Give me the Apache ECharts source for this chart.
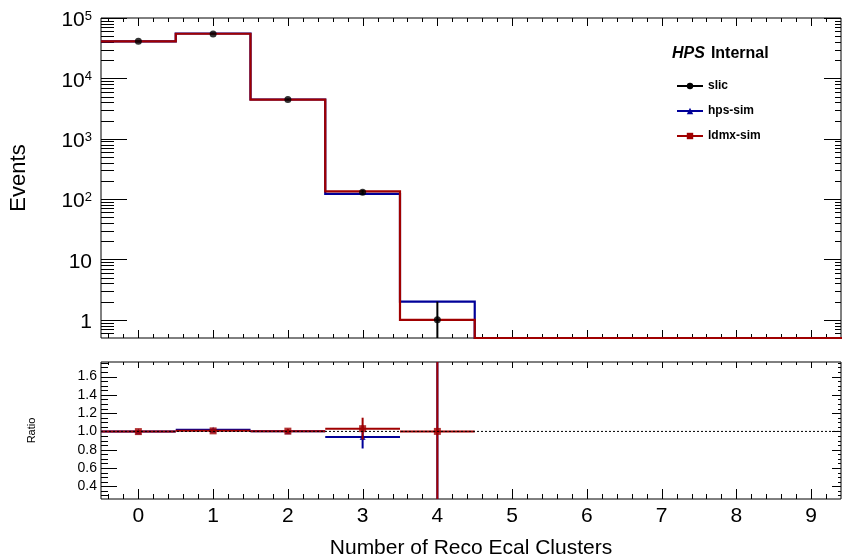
<!DOCTYPE html>
<html><head><meta charset="utf-8">
<script src="https://cdn.jsdelivr.net/npm/echarts@6/dist/echarts.min.js"></script>
<style>html,body{margin:0;padding:0;background:#fff}#c{width:842px;height:560px}</style>
</head><body><div id="c"></div>
<script>
// ---------- data ----------
const categories = [0, 1, 2, 3, 4, 5, 6, 7, 8, 9];
const slic     = [41000, 54500, 4450, 130, 1, 0, 0, 0, 0, 0];
const slicErr  = [203, 233, 67, 11.4, 1, 0, 0, 0, 0, 0];
const hpsSim   = [41000, 55400, 4465, 122, 2, 0, 0, 0, 0, 0];
const ldmxSim  = [40900, 54800, 4460, 134, 1, 0, 0, 0, 0, 0];

const ratioBins    = [0, 1, 2, 3, 4];
const ratioHps     = [1.0, 1.018, 1.003, 0.940, 2.0];
const ratioHpsErr  = [0.007, 0.006, 0.021, 0.127, 2.45];
const ratioLdmx    = [0.998, 1.006, 1.003, 1.030, 1.0];
const ratioLdmxErr = [0.007, 0.006, 0.021, 0.120, 1.41];

const xTickLabels     = ['0', '1', '2', '3', '4', '5', '6', '7', '8', '9'];
const xMajorTicks     = [0, 1, 2, 3, 4, 5, 6, 7, 8, 9];
const logMajorTicks   = [1, 10, 100, 1000, 10000, 100000];
const ratioMajorTicks = [0.4, 0.6, 0.8, 1.0, 1.2, 1.4, 1.6];
const ratioTickLabels = ['0.4', '0.6', '0.8', '1.0', '1.2', '1.4', '1.6'];

const seriesNames = ['slic', 'hps-sim', 'ldmx-sim'];
const xAxisTitle = 'Number of Reco Ecal Clusters';
const yAxisTitle = 'Events';
const ratioTitle = 'Ratio';

// ---------- axis ranges & styles ----------
const X_MIN = -0.5, X_MAX = 9.4;
const Y_MIN = 0.5, Y_MAX = 100000;
const R_MIN = 0.26, R_MAX = 1.76;
const RED = '#a00000', BLUE = '#000099', BLACK = '#000000';
const FONT = '"Liberation Sans", Arial, Helvetica, sans-serif';

// minor tick positions (axis decoration)
const xMinorTicks = [];
for (let k = -2; k <= 46; k++) if (k % 5 !== 0) xMinorTicks.push(Math.round(k * 2) / 10);
const logMinorTicks = [];
for (let n = -1; n <= 4; n++) for (let m = 2; m <= 9; m++) {
  const v = m * Math.pow(10, n);
  if (v > Y_MIN && v < Y_MAX) logMinorTicks.push(v);
}
const ratioMinorTicks = [];
for (let k = 6; k <= 35; k++) if (k % 4 !== 0) ratioMinorTicks.push(Math.round(k * 5) / 100);

function tickData(xMaj, xMin, yMaj, yMin, yRef) {
  const d = [];
  xMaj.forEach(v => d.push([v, yRef, 0]));
  xMin.forEach(v => d.push([v, yRef, 1]));
  yMaj.forEach(v => d.push([0, v, 2]));
  yMin.forEach(v => d.push([0, v, 3]));
  return d;
}
function tickSeries(gi, data, L) {
  return {
    type: 'custom', xAxisIndex: gi, yAxisIndex: gi, silent: true, z: 5,
    data: data,
    renderItem: function (params, api) {
      const cs = params.coordSys;
      const kind = api.value(2);
      const st = { stroke: BLACK, lineWidth: 1 };
      const kids = [];
      if (kind < 2) {
        const px = Math.round(api.coord([api.value(0), api.value(1)])[0]) + 0.5;
        const lb = kind === 0 ? L.xb[0] : L.xb[1];
        const lt = kind === 0 ? L.xt[0] : L.xt[1];
        const b = cs.y + cs.height, t = cs.y;
        kids.push({ type: 'line', shape: { x1: px, y1: b, x2: px, y2: b - lb }, style: st });
        kids.push({ type: 'line', shape: { x1: px, y1: t, x2: px, y2: t + lt }, style: st });
      } else {
        const py = Math.round(api.coord([api.value(0), api.value(1)])[1]) + 0.5;
        const ll = kind === 2 ? L.yl[0] : L.yl[1];
        const lr = kind === 2 ? L.yr[0] : L.yr[1];
        const l = cs.x, r = cs.x + cs.width;
        kids.push({ type: 'line', shape: { x1: l, y1: py, x2: l + ll, y2: py }, style: st });
        kids.push({ type: 'line', shape: { x1: r, y1: py, x2: r - lr, y2: py }, style: st });
      }
      return { type: 'group', children: kids };
    }
  };
}

function stepSeries(vals, color, z) {
  return {
    type: 'custom', xAxisIndex: 0, yAxisIndex: 0, silent: true, z: z,
    data: categories.map((c, i) => [c, vals[i] > 0 ? vals[i] : Y_MIN]),
    renderItem: function (params, api) {
      if (params.dataIndex !== 0) return null;
      const cs = params.coordSys;
      const bottom = cs.y + cs.height;
      const pts = [];
      for (let i = 0; i < categories.length; i++) {
        const y = vals[i] > 0 ? api.coord([categories[i], vals[i]])[1] : bottom;
        pts.push([api.coord([categories[i] - 0.5, 1])[0], y]);
        pts.push([api.coord([categories[i] + 0.5, 1])[0], y]);
      }
      return { type: 'polyline', shape: { points: pts }, style: { stroke: color, lineWidth: 2.2, fill: null } };
    }
  };
}

function errorSeries(gi, xs, vals, errs, color, halfWidth, clip, z) {
  return {
    type: 'custom', xAxisIndex: gi, yAxisIndex: gi, silent: true, clip: clip, z: z,
    data: xs.map((c, i) => [c, vals[i], errs[i]]).filter(d => d[1] > 0),
    renderItem: function (params, api) {
      const cs = params.coordSys;
      const x = api.value(0), v = api.value(1), e = api.value(2);
      const bottom = cs.y + cs.height;
      const c = api.coord([x, v]);
      const lo = v - e > 0 ? api.coord([x, v - e])[1] : bottom;
      const hi = api.coord([x, v + e])[1];
      const kids = [{ type: 'line', shape: { x1: c[0], y1: lo, x2: c[0], y2: hi }, style: { stroke: color, lineWidth: 2 } }];
      if (halfWidth > 0) {
        const xl = api.coord([x - halfWidth, v])[0], xr = api.coord([x + halfWidth, v])[0];
        kids.push({ type: 'line', shape: { x1: xl, y1: c[1], x2: xr, y2: c[1] }, style: { stroke: color, lineWidth: 2 } });
      }
      return { type: 'group', children: kids };
    }
  };
}

const chart = echarts.init(document.getElementById('c'), null, { renderer: 'canvas' });
const option = {
  animation: false,
  backgroundColor: '#ffffff',
  textStyle: { fontFamily: FONT, color: BLACK },
  title: {
    text: '{i|HPS}{b|Internal}',
    left: 672, top: 46, padding: 0,
    textStyle: {
      rich: {
        i: { fontFamily: FONT, fontStyle: 'italic', fontWeight: 'bold', fontSize: 16, color: BLACK, padding: [0, 6, 0, 0] },
        b: { fontFamily: FONT, fontWeight: 'bold', fontSize: 16, color: BLACK }
      }
    }
  },
  legend: {
    orient: 'vertical', left: 676, top: 80, padding: 0,
    itemWidth: 26, itemHeight: 8, itemGap: 13,
    selectedMode: false,
    data: seriesNames,
    textStyle: { fontFamily: FONT, fontWeight: 'bold', fontSize: 12, color: BLACK }
  },
  grid: [
    { left: 101, right: 1, top: 18, height: 320, show: true, borderColor: BLACK, borderWidth: 1, backgroundColor: 'transparent' },
    { left: 101, right: 1, top: 362, height: 139, show: true, borderColor: BLACK, borderWidth: 1, backgroundColor: 'transparent' }
  ],
  xAxis: [
    { gridIndex: 0, type: 'value', min: X_MIN, max: X_MAX,
      axisLine: { show: false }, axisTick: { show: false }, axisLabel: { show: false }, splitLine: { show: false } },
    { gridIndex: 1, type: 'value', min: X_MIN, max: X_MAX, splitNumber: 10,
      axisLine: { show: false }, axisTick: { show: false }, splitLine: { show: false },
      axisLabel: {
        customValues: xMajorTicks, margin: 7, fontSize: 21, color: BLACK, fontFamily: FONT,
        showMinLabel: true, showMaxLabel: true,
        formatter: function (v) {
          const i = xMajorTicks.findIndex(t => Math.abs(t - v) < 1e-6);
          return i >= 0 ? xTickLabels[i] : '';
        }
      },
      name: xAxisTitle, nameLocation: 'middle', nameGap: 39,
      nameTextStyle: { fontSize: 21, color: BLACK, fontFamily: FONT }
    }
  ],
  yAxis: [
    { gridIndex: 0, type: 'log', logBase: 10, min: Y_MIN, max: Y_MAX,
      axisLine: { show: false }, axisTick: { show: false }, splitLine: { show: false },
      axisLabel: {
        margin: 9, color: BLACK, fontFamily: FONT, padding: [5, 0, 0, 0],
        formatter: function (v) {
          const n = Math.round(Math.log10(v));
          const i = logMajorTicks.findIndex(t => Math.abs(t - v) / t < 1e-6);
          if (i < 0) return '';
          if (n === 0) return '{b|1}';
          if (n === 1) return '{b|10}';
          return '{b|10}{s|' + n + '}';
        },
        rich: {
          b: { fontSize: 21, lineHeight: 21, fontFamily: FONT, color: BLACK },
          s: { fontSize: 13, lineHeight: 13, verticalAlign: 'top', fontFamily: FONT, color: BLACK }
        }
      },
      name: yAxisTitle, nameLocation: 'middle', nameGap: 71,
      nameTextStyle: { fontSize: 22, color: BLACK, fontFamily: FONT }
    },
    { gridIndex: 1, type: 'value', min: R_MIN, max: R_MAX, splitNumber: 7,
      axisLine: { show: false }, axisTick: { show: false }, splitLine: { show: false },
      axisLabel: {
        customValues: ratioMajorTicks, margin: 4, fontSize: 14, color: BLACK, fontFamily: FONT,
        formatter: function (v) {
          const i = ratioMajorTicks.findIndex(t => Math.abs(t - v) < 1e-6);
          return i >= 0 ? ratioTickLabels[i] : '';
        }
      },
      name: ratioTitle, nameLocation: 'middle', nameGap: 64,
      nameTextStyle: { fontSize: 11, color: BLACK, fontFamily: FONT }
    }
  ],
  series: [
    tickSeries(0, tickData(xMajorTicks, xMinorTicks, logMajorTicks, logMinorTicks, 1),
      { xb: [8, 4], xt: [8, 4], yl: [26, 13], yr: [17, 6] }),
    tickSeries(1, tickData(xMajorTicks, xMinorTicks, ratioMajorTicks, ratioMinorTicks, 1),
      { xb: [10, 5], xt: [6, 3], yl: [16, 7], yr: [9, 3] }),
    stepSeries(hpsSim, BLUE, 10),
    stepSeries(ldmxSim, RED, 11),
    errorSeries(0, categories, slic, slicErr, BLACK, 0, false, 12),
    { type: 'scatter', xAxisIndex: 0, yAxisIndex: 0, silent: true, z: 13,
      symbol: 'circle', symbolSize: 7, itemStyle: { color: BLACK },
      data: categories.map((c, i) => [c, slic[i]]).filter(d => d[1] > 0) },
    // ratio panel
    errorSeries(1, ratioBins, ratioHps, ratioHpsErr, BLUE, 0.5, true, 10),
    { type: 'scatter', xAxisIndex: 1, yAxisIndex: 1, silent: true, z: 11, clip: true,
      symbol: 'triangle', symbolSize: 6, itemStyle: { color: BLUE },
      data: ratioBins.map((c, i) => [c, ratioHps[i]]) },
    errorSeries(1, ratioBins, ratioLdmx, ratioLdmxErr, RED, 0.5, true, 12),
    { type: 'scatter', xAxisIndex: 1, yAxisIndex: 1, silent: true, z: 13, clip: true,
      symbol: 'rect', symbolSize: 7, itemStyle: { color: RED },
      data: ratioBins.map((c, i) => [c, ratioLdmx[i]]) },
    { type: 'line', xAxisIndex: 1, yAxisIndex: 1, silent: true, z: 14, symbol: 'none',
      lineStyle: { color: BLACK, width: 1, type: [2, 2] },
      data: [[X_MIN, 1], [X_MAX, 1]] },
    // legend entries
    { name: seriesNames[0], type: 'line', xAxisIndex: 0, yAxisIndex: 0, data: [], symbol: 'circle', symbolSize: 7,
      itemStyle: { color: BLACK }, lineStyle: { color: BLACK, width: 2 } },
    { name: seriesNames[1], type: 'line', xAxisIndex: 0, yAxisIndex: 0, data: [], symbol: 'triangle', symbolSize: 7,
      itemStyle: { color: BLUE }, lineStyle: { color: BLUE, width: 2 } },
    { name: seriesNames[2], type: 'line', xAxisIndex: 0, yAxisIndex: 0, data: [], symbol: 'rect', symbolSize: 7,
      itemStyle: { color: RED }, lineStyle: { color: RED, width: 2 } }
  ]
};
chart.setOption(option);
</script>
</body></html>
